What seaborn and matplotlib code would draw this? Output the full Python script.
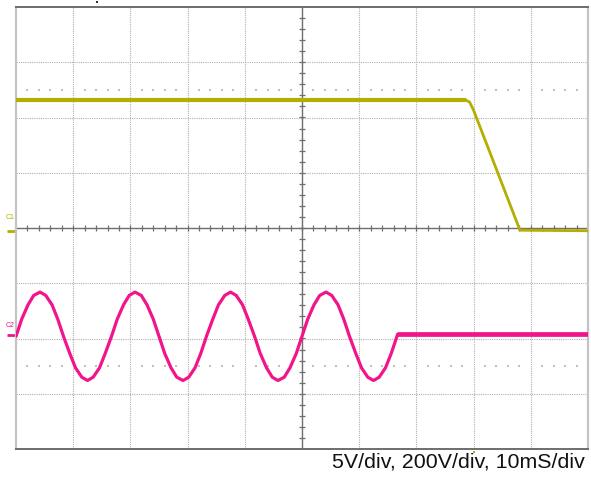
import matplotlib
matplotlib.use("Agg", force=True)
import matplotlib.pyplot as plt
import numpy as np
import pandas as pd
import seaborn as sns

# time axis in ms (10 ms/div), vertical axis in divisions
C1_TIME = [0.0, 78.5, 79.3, 80.0, 84.0, 88.1, 100.0]
C1_LEVEL = [2.32, 2.32, 2.28, 2.13, 1.06, -0.04, -0.05]

C2_TIME = [
    0.0, 1.0, 2.1, 3.1, 4.2, 5.2, 6.3, 7.3, 8.3, 9.4, 10.4, 11.5, 12.5, 13.5, 14.6, 15.6,
    16.7, 17.7, 18.8, 19.8, 20.8, 21.9, 22.9, 24.0, 25.0, 26.0, 27.1, 28.1, 29.2, 30.2, 31.3, 32.3,
    33.3, 34.4, 35.4, 36.5, 37.5, 38.5, 39.6, 40.6, 41.7, 42.7, 43.8, 44.8, 45.8, 46.9, 47.9, 49.0,
    50.0, 51.0, 52.1, 53.1, 54.2, 55.2, 56.3, 57.3, 58.3, 59.4, 60.4, 61.5, 62.5, 63.5, 64.6, 65.6,
    66.7,
]
C2_LEVEL = [
    -1.96, -1.65, -1.39, -1.22, -1.16, -1.22, -1.39, -1.65, -1.96, -2.27, -2.53, -2.70, -2.76, -2.70, -2.53, -2.27,
    -1.96, -1.65, -1.39, -1.22, -1.16, -1.22, -1.39, -1.65, -1.96, -2.27, -2.53, -2.70, -2.76, -2.70, -2.53, -2.27,
    -1.96, -1.65, -1.39, -1.22, -1.16, -1.22, -1.39, -1.65, -1.96, -2.27, -2.53, -2.70, -2.76, -2.70, -2.53, -2.27,
    -1.96, -1.65, -1.39, -1.22, -1.16, -1.22, -1.39, -1.65, -1.96, -2.27, -2.53, -2.70, -2.76, -2.70, -2.53, -2.27,
    -1.93,
]
C2_FLAT_TIME = [66.7, 100.0]
C2_FLAT_LEVEL = [-1.92, -1.92]

SCALE_TEXT = "5V/div, 200V/div, 10mS/div"

YELLOW = "#b4ae00"
PINK = "#f2148a"
GRID = "#b0b0b0"
AXIS = "#6e6e6e"


def main() -> None:
    sns.set_style("white")
    plt.rcParams["font.family"] = ["Liberation Sans", "DejaVu Sans"]

    fig = plt.figure(figsize=(5.91, 4.80), dpi=100)
    ax = fig.add_axes([16 / 591, 31 / 480, 572 / 591, 442 / 480])
    ax.set_xlim(0, 100)
    ax.set_ylim(-4, 4)

    # graticule
    for x in range(10, 100, 10):
        if x != 50:
            ax.axvline(x, color=GRID, lw=0.8, ls=(0, (1.0, 1.0)), zorder=1)
    for y in range(-3, 4):
        if y != 0:
            ax.axhline(y, color=GRID, lw=0.8, ls=(0, (1.0, 1.0)), zorder=1)
    ax.axhline(0, color=AXIS, lw=1.0, zorder=1)
    ax.axvline(50, color=AXIS, lw=1.0, zorder=1)

    minor_x = np.arange(2, 100, 2)
    ax.vlines(minor_x, -0.055, 0.055, color=AXIS, lw=0.9, zorder=1)
    minor_y = np.arange(-3.8, 4.0, 0.2)
    ax.hlines(minor_y, 50 - 0.5, 50 + 0.5, color=AXIS, lw=0.9, zorder=1)

    dot_x = [x for x in minor_x if x % 10 != 0]
    for y in (2.5, -2.5):
        ax.scatter(dot_x, [y] * len(dot_x), s=1.0, marker="s", color="#c0c0c0",
                   linewidths=0, zorder=1)

    # traces
    c1 = pd.DataFrame({"t": C1_TIME, "v": C1_LEVEL})
    sns.lineplot(data=c1.iloc[:2], x="t", y="v", ax=ax, color=YELLOW, lw=3.0,
                 sort=False, estimator=None, zorder=3)
    sns.lineplot(data=c1.iloc[1:], x="t", y="v", ax=ax, color=YELLOW, lw=2.0,
                 sort=False, estimator=None, zorder=3, solid_joinstyle="round")

    c2 = pd.DataFrame({"t": C2_TIME, "v": C2_LEVEL})
    sns.lineplot(data=c2, x="t", y="v", ax=ax, color=PINK, lw=2.3,
                 sort=False, estimator=None, zorder=3, solid_joinstyle="round")
    c2f = pd.DataFrame({"t": C2_FLAT_TIME, "v": C2_FLAT_LEVEL})
    sns.lineplot(data=c2f, x="t", y="v", ax=ax, color=PINK, lw=3.4,
                 sort=False, estimator=None, zorder=3)

    ax.set_xlabel("")
    ax.set_ylabel("")
    ax.set_xticks([])
    ax.set_yticks([])
    for side in ("top", "bottom"):
        ax.spines[side].set_color(AXIS)
        ax.spines[side].set_linewidth(1.4)
    for side in ("left", "right"):
        ax.spines[side].set_color("#c4c4c4")
        ax.spines[side].set_linewidth(1.6)

    # channel markers at the left edge
    ax.text(-0.25, 0.12, "C1", color=YELLOW, fontsize=5, ha="right", va="bottom",
            transform=ax.transData, clip_on=False)
    ax.plot([-1.6, -0.1], [-0.05, -0.05], color=YELLOW, lw=2.0, clip_on=False,
            solid_capstyle="butt")
    ax.text(-0.25, -1.82, "C2", color=PINK, fontsize=5, ha="right", va="bottom",
            transform=ax.transData, clip_on=False)
    ax.plot([-1.6, -0.1], [-1.94, -1.94], color=PINK, lw=2.0, clip_on=False,
            solid_capstyle="butt")

    # trigger markers
    ax.plot([14.2], [4.0 + 5.0 / 55.25], marker="s", ms=1.6, color="#333333",
            clip_on=False, lw=0, markeredgewidth=0)
    ax.plot([80.0], [-4.0 - 3.0 / 55.25], marker="s", ms=1.6, color=YELLOW,
            clip_on=False, lw=0, markeredgewidth=0)

    fig.text(585 / 591, 1 - 467 / 480, SCALE_TEXT, ha="right", va="baseline",
             fontsize=15.4, color="#111111")

    fig.savefig("out.png", dpi=100)
    plt.close(fig)


if __name__ == "__main__":
    main()
